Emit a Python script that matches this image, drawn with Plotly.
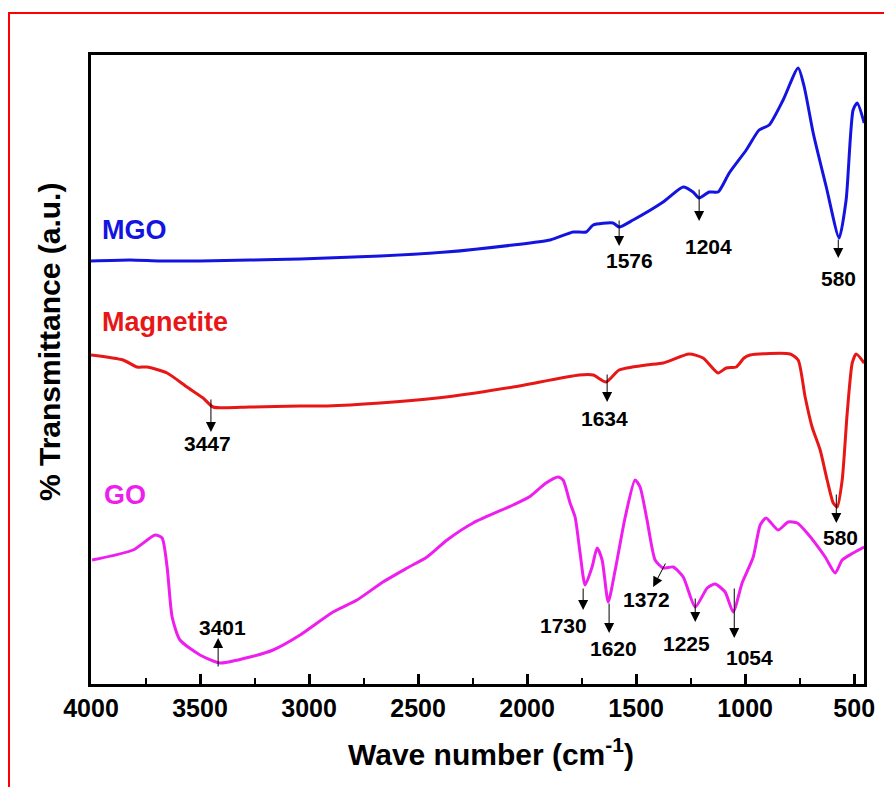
import plotly.graph_objects as go

# ---------------- data (wavenumber cm-1, transmittance a.u.) ----------------
mgo_wn = [4000, 3821, 3683, 3500, 3271, 3041, 2674, 2372, 2064, 1894, 1789, 1729, 1697, 1606,
          1578, 1514, 1376, 1284, 1239, 1211, 1165, 1124, 1073, 995, 936, 890, 826, 757, 729,
          688, 628, 569, 537, 505, 486, 454]
mgo_t = [423, 424, 423, 423, 424, 425, 428, 432, 439, 444, 452, 452, 459, 461,
         457, 464, 482, 497, 492, 486, 492, 492, 511, 534, 554, 559, 584, 616, 597,
         551, 497, 446, 484, 574, 581, 561]

mag_wn = [4000, 3853, 3789, 3743, 3651, 3560, 3486, 3440, 3271, 3041, 2917, 2674, 2372, 2064,
          1761, 1697, 1638, 1578, 1454, 1376, 1257, 1193, 1124, 1087, 1041, 1005, 977, 794,
          757, 725, 693, 656, 624, 596, 578, 555, 532, 509, 491, 454]
mag_t = [329, 324, 317, 317, 311, 297, 286, 277, 277, 278, 278, 281, 287, 297,
         309, 309, 302, 314, 319, 321, 330, 326, 311, 316, 317, 326, 329, 330,
         324, 287, 257, 234, 204, 181, 177, 204, 271, 321, 330, 321]

go_wn = [3995, 3807, 3706, 3674, 3651, 3628, 3592, 3500, 3408, 3271, 3165, 3041, 2890, 2780,
         2661, 2550, 2459, 2367, 2248, 2064, 1991, 1913, 1858, 1835, 1803, 1780, 1757, 1734,
         1702, 1679, 1656, 1628, 1596, 1550, 1505, 1482, 1450, 1413, 1376, 1330, 1284, 1229,
         1174, 1138, 1092, 1055, 1014, 963, 931, 904, 849, 803, 761, 716, 633, 587, 555, 505, 454]
go_t = [124, 134, 149, 146, 117, 67, 44, 29, 21, 27, 34, 49, 72, 84,
        102, 116, 127, 144, 161, 179, 187, 201, 207, 204, 181, 167, 131, 99,
        117, 136, 124, 82, 114, 167, 204, 197, 164, 124, 116, 117, 107, 77,
        96, 100, 92, 72, 101, 127, 159, 166, 154, 162, 161, 151, 127, 111, 124, 131, 137]

series_names = ["MGO", "Magnetite", "GO"]
series_colors = ["#1414E0", "#E81717", "#EE1FEE"]
label_pos = [(3959, 454), (3959, 362), (3950, 189)]

# peak annotations: label, arrow tail, arrow head, text position
peak_labels = ["1576", "1204", "580", "3447", "1634", "580", "3401", "1730", "1620", "1372", "1225", "1054"]
arrow_tail_x = [1578, 1211, 573, 3450, 1633, 582, 3417, 1743, 1624, 1362, 1229, 1050]
arrow_tail_y = [465, 496, 446, 286, 311, 191, 16, 97, 82, 122, 87, 97]
arrow_head_x = [1578, 1211, 573, 3450, 1633, 582, 3417, 1743, 1624, 1422, 1229, 1050]
arrow_head_y = [438, 463, 426, 252, 282, 161, 46, 74, 51, 97, 62, 46]
text_x = [1532, 1170, 573, 3468, 1647, 564, 3399, 1835, 1606, 1454, 1271, 982]
text_y = [424, 438, 406, 241, 266, 147, 57, 59, 36, 85, 41, 27]

x_ticks = [4000, 3500, 3000, 2500, 2000, 1500, 1000, 500]

FONT = "Liberation Sans, Arial, sans-serif"
OFF = 8  # page body margin

W, H = 892 - OFF, 787 - OFF
PL, PR, PT, PB = 91 - OFF, 864 - OFF, 55 - OFF, 684 - OFF  # plot box in figure px
PW, PH = PR - PL, PB - PT


def px_to_paper_x(px):
    return (px - OFF - PL) / PW


def py_to_paper_y(py):
    return (PB - (py - OFF)) / PH


fig = go.Figure()
for wn, t, name, col in zip([mgo_wn, mag_wn, go_wn], [mgo_t, mag_t, go_t], series_names, series_colors):
    fig.add_trace(go.Scatter(x=wn, y=t, mode="lines", name=name,
                             line=dict(color=col, width=3, shape="spline", smoothing=0.6)))

ann = []
for name, col, (lx, ly) in zip(series_names, series_colors, label_pos):
    ann.append(dict(x=lx, y=ly, xref="x", yref="y", text=name, showarrow=False,
                    xanchor="left", yanchor="middle",
                    font=dict(family=FONT, size=27, color=col, weight="bold")))
for lab, tx, ty, hx, hy, px, py in zip(peak_labels, arrow_tail_x, arrow_tail_y, arrow_head_x,
                                       arrow_head_y, text_x, text_y):
    ann.append(dict(x=hx, y=hy, ax=tx, ay=ty, xref="x", yref="y", axref="x", ayref="y",
                    text="", showarrow=True, arrowhead=2, arrowsize=2.0, arrowwidth=1,
                    arrowcolor="black"))
    ann.append(dict(x=px, y=py, xref="x", yref="y", text=lab, showarrow=False,
                    xanchor="center", yanchor="middle",
                    font=dict(family=FONT, size=21, color="black", weight="bold")))

ann.append(dict(x=px_to_paper_x(491), y=py_to_paper_y(752), xref="paper", yref="paper",
                text="Wave number (cm<sup>-1</sup>)", showarrow=False,
                xanchor="center", yanchor="middle",
                font=dict(family=FONT, size=30, color="black", weight="bold")))
ann.append(dict(x=px_to_paper_x(49), y=py_to_paper_y(342), xref="paper", yref="paper", textangle=-90,
                text="% Transmittance (a.u.)", showarrow=False,
                xanchor="center", yanchor="middle",
                font=dict(family=FONT, size=30, color="black", weight="bold")))

fig.update_layout(
    width=W, height=H,
    margin=dict(l=PL, r=W - PR, t=PT, b=H - PB),
    paper_bgcolor="white", plot_bgcolor="white",
    showlegend=False,
    annotations=ann,
    shapes=[dict(type="rect", xref="paper", yref="paper",
                 x0=px_to_paper_x(9), x1=px_to_paper_x(905),
                 y0=py_to_paper_y(800), y1=py_to_paper_y(13),
                 line=dict(color="#FF0000", width=2), fillcolor="rgba(0,0,0,0)", layer="below")],
)
fig.update_xaxes(range=[4000, 455], tickvals=x_ticks, ticktext=[str(v) for v in x_ticks],
                 ticks="inside", ticklen=10, tickwidth=3, tickcolor="black",
                 minor=dict(ticks="inside", ticklen=6, tickwidth=2, dtick=250, tick0=0,
                            tickcolor="black", showgrid=False),
                 showline=True, linewidth=3, linecolor="black", mirror=True,
                 showgrid=False, zeroline=False,
                 tickfont=dict(family=FONT, size=25, color="black", weight="bold"))
fig.update_yaxes(range=[0, 629], showticklabels=False, ticks="",
                 showline=True, linewidth=3, linecolor="black", mirror=True,
                 showgrid=False, zeroline=False)

fig.write_html("out.html")
